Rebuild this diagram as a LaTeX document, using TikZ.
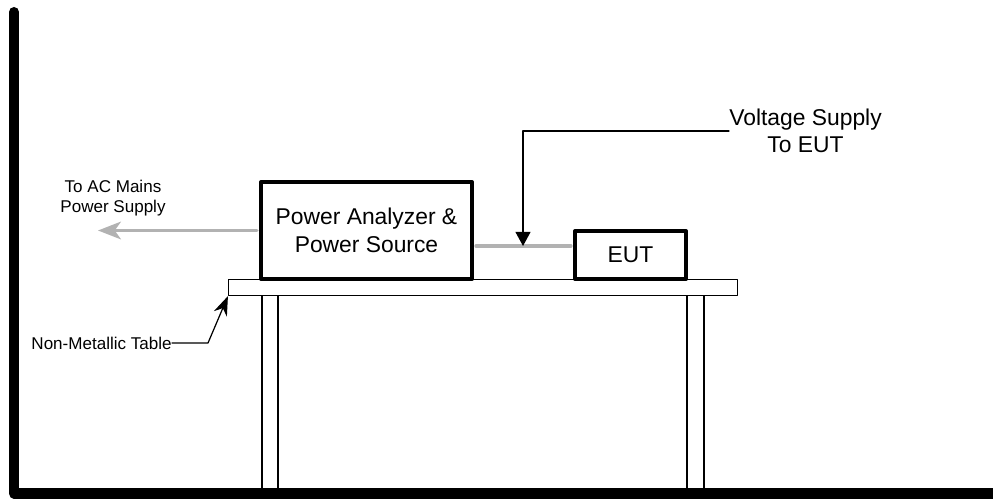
\documentclass[tikz,border=0pt]{standalone}
\usepackage{fontspec}
\setmainfont{Liberation Sans}
\usetikzlibrary{arrows.meta}
\tikzset{
	box/.style={draw, line width=2.3pt, inner sep=0pt, align=center, font=\fontsize{13}{16}\selectfont},
	big/.style={inner sep=0pt, align=center, font=\fontsize{13}{15.4}\selectfont},
	small/.style={inner sep=0pt, align=center, font=\fontsize{9.7}{11.4}\selectfont},
	rim/.style={line width=0.7pt},
	feed/.style={draw=black!30, line width=2pt, shorten <=1.2pt, shorten >=1.2pt},
}
\begin{document}
\begin{tikzpicture}[x=0.02cm, y=-0.02cm, line join=round, line cap=round]
	\useasboundingbox (0,0) rectangle (993,499);
	\path
	(14,12) coordinate (W)
	(14,493.5) coordinate (C)
	(993,493.5) coordinate (F)
	(98,230.5) coordinate (AC)
	(523,246) coordinate (J)
	(208,343) coordinate (K)
	;
	% wall and floor
	\draw[line width=5.7pt] (W)--(C)--(F);
	% table
	\node[draw, rim, minimum width=10.18cm, minimum height=0.32cm] (top) at (483,287.5) {};
	\foreach \x in {262,278,687,704}
	\draw[rim] (\x,296)--(\x,488);
	% equipment
	\node[box, minimum width=4.22cm, minimum height=1.94cm] (pa) at (366.5,230.5) {Power Analyzer \&\\Power Source};
	\node[box, minimum width=2.22cm, minimum height=0.96cm] (eut) at (630.5,255) {EUT};
	% labels
	\node[big, anchor=west] (vs) at (729,131) {Voltage Supply\\To EUT};
	\node[small] (ac) at (113,198) {To AC Mains\\Power Supply};
	\node[small, anchor=east] (nm) at (172,343) {Non-Metallic Table};
	% connectors
	\draw[feed, shorten >=0pt, -{Stealth[length=13pt,width=10pt,inset=3.5pt]}] (pa.west) -- (AC);
	\draw[feed] (pa.east |- J) -- (eut.west |- J);
	\draw[rim, -{Triangle[length=8pt,width=8.5pt]}] (vs.west) -| (J);
	\draw[rim, -{Stealth[length=11pt,width=8pt]}] (nm.east) -- (K) -- (top.south west);
\end{tikzpicture}
\end{document}
